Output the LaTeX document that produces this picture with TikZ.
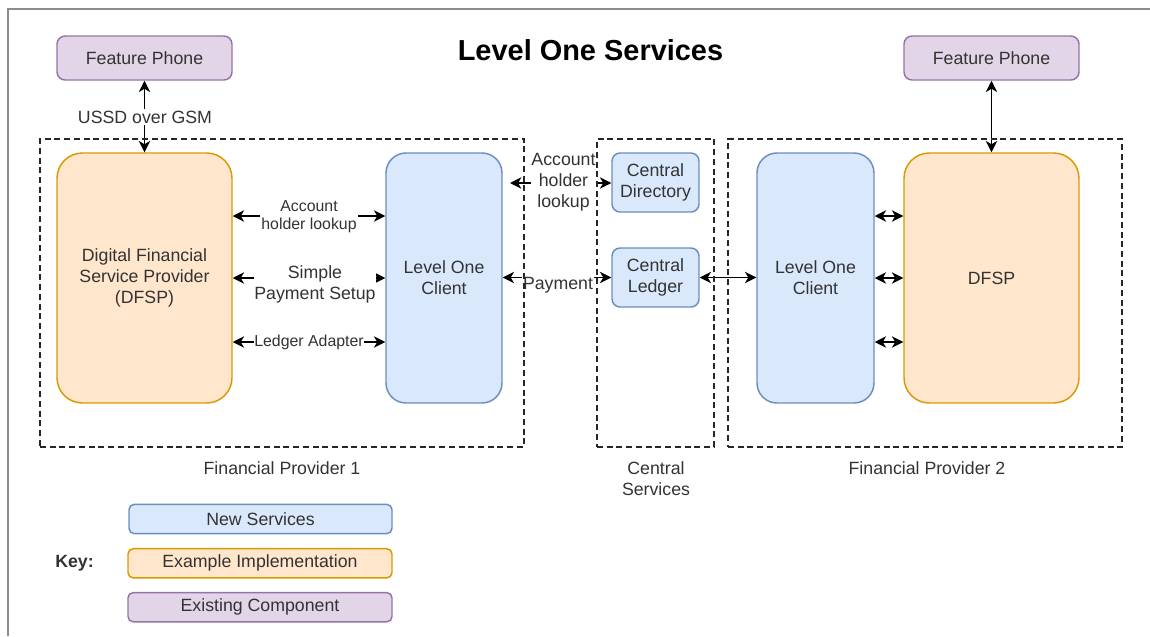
\documentclass[tikz,border=0pt]{standalone}
\usepackage{fontspec}
\setmainfont{Liberation Sans}
\usetikzlibrary{arrows.meta}
\definecolor{txt}{HTML}{333333}
\definecolor{bluefill}{HTML}{DAE8FC}
\definecolor{bluedraw}{HTML}{6C8EBF}
\definecolor{orfill}{HTML}{FFE6CC}
\definecolor{ordraw}{HTML}{D79B00}
\definecolor{pufill}{HTML}{E1D5E7}
\definecolor{pudraw}{HTML}{9673A6}
\definecolor{framegray}{HTML}{8C8C8C}
\begin{document}
\begin{tikzpicture}[x=0.75pt,y=-0.75pt,
  every node/.style={text=txt},
  big/.style={font=\fontsize{13.3}{15.8}\selectfont},
  small/.style={font=\fontsize{11.9}{13.6}\selectfont},
  box/.style={draw, line width=1.1pt, align=center, big, inner sep=0pt},
  newsvc/.style={fill=bluefill, draw=bluedraw},
  impl/.style={fill=orfill, draw=ordraw},
  existing/.style={fill=pufill, draw=pudraw},
  conn/.style={line width=1.3pt, {Stealth[length=8.5pt,width=8.5pt,inset=2.5pt]}-{Stealth[length=8.5pt,width=8.5pt,inset=2.5pt]}},
  grp/.style={draw=black!85, dash pattern=on 4.5pt off 2.8pt, line width=1.2pt, inner sep=0pt},
  lbl/.style={fill=white, inner sep=1pt, align=center}
]
\useasboundingbox (0,0) rectangle (1150,636);
\draw[line width=1.6pt, framegray] (8,636) -- (8,9) -- (1150,9);

\node[font=\bfseries\fontsize{21.7}{26}\selectfont, text=black] (title) at (590.5,50) {Level One Services};

% boxes
\node[box, existing, rounded corners=6pt, minimum width=131.25pt, minimum height=33pt] (fp1) at (144.5,58) {Feature Phone};
\node[box, existing, rounded corners=6pt, minimum width=131.25pt, minimum height=33pt] (fp2) at (991.5,58) {Feature Phone};
\node[box, impl, rounded corners=19pt, minimum width=131.25pt, minimum height=187.5pt] (dfsp1) at (144.5,278) {Digital Financial\\Service Provider\\(DFSP)};
\node[box, newsvc, rounded corners=15pt, minimum width=87pt, minimum height=187.5pt] (loc1) at (444,278) {Level One\\Client};
\node[box, newsvc, rounded corners=6pt, minimum width=65.25pt, minimum height=44.25pt] (cd) at (655.5,182.5) {Central\\Directory};
\node[box, newsvc, rounded corners=6pt, minimum width=65.25pt, minimum height=44.25pt] (cl) at (655.5,277.5) {Central\\Ledger};
\node[box, newsvc, rounded corners=15pt, minimum width=87.75pt, minimum height=187.5pt] (loc2) at (815.5,278) {Level One\\Client};
\node[box, impl, rounded corners=19pt, minimum width=131.25pt, minimum height=187.5pt] (dfsp2) at (991.5,278) {DFSP};

% row coordinates
\coordinate (r1) at (0,216);
\coordinate (r2) at (0,278);
\coordinate (r3) at (0,342);
\coordinate (c0) at (510,183);

% connectors
\draw[conn] (fp1.south) -- (dfsp1.north);
\draw[conn] (fp2.south) -- (dfsp2.north);
\draw[conn] (dfsp1.east |- r1) -- (loc1.west |- r1);
\draw[conn] (dfsp1.east |- r2) -- (loc1.west |- r2);
\draw[conn] (dfsp1.east |- r3) -- (loc1.west |- r3);
\draw[conn] (c0) -- (cd.west |- c0);
\draw[conn] (loc1.east |- cl.west) -- (cl.west);
\draw[conn] (cl.east) -- (loc2.west |- cl.east);
\draw[conn] (loc2.east |- r1) -- (dfsp2.west |- r1);
\draw[conn] (loc2.east |- r2) -- (dfsp2.west |- r2);
\draw[conn] (loc2.east |- r3) -- (dfsp2.west |- r3);

% connector labels
\node[lbl, big] (l0) at (145,117) {USSD over GSM};
\node[lbl, small] (l1) at (309,217) {Account\\holder lookup};
\node[lbl, big, inner sep=0.5pt] (l2) at (315,284.5) {Simple\\Payment Setup};
\node[lbl, small, inner sep=0.5pt] (l3) at (309,342) {Ledger Adapter};
\node[lbl, big, inner sep=0.5pt] (l4) at (563.5,182) {Account\\holder\\lookup};
\node[lbl, big, inner sep=0.5pt] (l5) at (558,285) {Payment};

% groups
\node[grp, minimum width=363pt, minimum height=231pt] (g1) at (282,293) {};
\node[grp, minimum width=87.75pt, minimum height=231pt] (g2) at (655.5,293) {};
\node[grp, minimum width=295.5pt, minimum height=231pt] (g3) at (925,293) {};
\node[big] (g1t) at (282,468) {Financial Provider 1};
\node[big, align=center] (g2t) at (656,478.5) {Central\\Services};
\node[big] (g3t) at (927,468) {Financial Provider 2};

% key
\node[big, font=\bfseries\fontsize{13.3}{15.8}\selectfont] (key) at (74.5,563) {Key:};
\node[box, newsvc, rounded corners=4pt, minimum width=197.25pt, minimum height=22pt] (k1) at (260.5,519) {New Services};
\node[box, impl, rounded corners=4pt, minimum width=198pt, minimum height=22pt] (k2) at (260,563.3) {Example Implementation};
\node[box, existing, rounded corners=4pt, minimum width=198pt, minimum height=22pt] (k3) at (260,607.2) {Existing Component};
\end{tikzpicture}
\end{document}
